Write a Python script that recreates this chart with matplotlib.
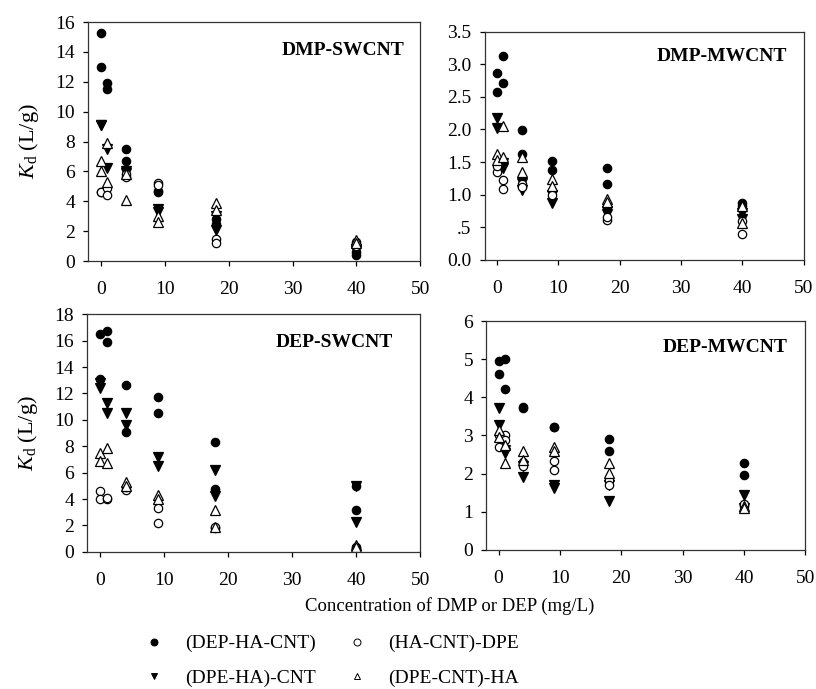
import matplotlib
matplotlib.use("Agg")
import matplotlib.pyplot as plt
from matplotlib.lines import Line2D

plt.rcParams["font.family"] = ["Liberation Serif", "DejaVu Serif"]
plt.rcParams["mathtext.fontset"] = "custom"
plt.rcParams["mathtext.rm"] = "Liberation Serif"
plt.rcParams["mathtext.it"] = "Liberation Serif:italic"

# x positions (mg/L), two replicate points per level
X = [0, 0, 1, 1, 4, 4, 9, 9, 18, 18, 40, 40]

SERIES = ["(DEP-HA-CNT)", "(DPE-HA)-CNT", "(HA-CNT)-DPE", "(DPE-CNT)-HA"]

# DMP-SWCNT
dmp_sw_hc = [15.3, 13.0, 11.9, 11.5, 7.5, 6.7, 4.6, 4.7, 2.5, 2.8, 0.4, 0.6]
dmp_sw_hd = [9.1, 9.1, 7.5, 6.2, 6.0, 5.9, 3.5, 3.3, 3.0, 2.1, 0.7, 0.8]
dmp_sw_cd = [4.6, 4.6, 4.9, 4.4, 5.6, 5.8, 5.2, 5.1, 1.5, 1.2, 1.0, 1.3]
dmp_sw_ch = [6.7, 6.0, 7.9, 5.3, 4.1, 5.8, 3.0, 2.6, 3.9, 3.4, 1.4, 1.2]

# DMP-MWCNT
dmp_mw_hc = [2.87, 2.57, 3.13, 2.72, 1.99, 1.62, 1.52, 1.37, 1.41, 1.17, 0.87, 0.82]
dmp_mw_hd = [2.17, 2.02, 1.48, 1.41, 1.18, 1.07, 1.00, 0.87, 0.75, 0.70, 0.72, 0.62]
dmp_mw_cd = [1.35, 1.44, 1.23, 1.09, 1.17, 1.12, 1.05, 1.00, 0.61, 0.65, 0.39, 0.60]
dmp_mw_ch = [1.62, 1.53, 2.05, 1.57, 1.58, 1.34, 1.24, 1.13, 0.93, 0.88, 0.82, 0.57]

# DEP-SWCNT
dep_sw_hc = [16.5, 13.1, 16.7, 15.9, 12.6, 9.1, 11.7, 10.5, 8.3, 4.8, 3.2, 5.0]
dep_sw_hd = [12.8, 12.4, 11.3, 10.5, 10.5, 9.6, 7.2, 6.5, 6.2, 4.2, 5.0, 2.3]
dep_sw_cd = [4.6, 4.0, 4.0, 4.1, 4.7, 4.9, 3.3, 2.2, 1.8, 1.9, 0.4, 0.3]
dep_sw_ch = [7.5, 6.9, 7.9, 6.7, 5.3, 5.0, 4.3, 4.0, 3.2, 1.9, 0.5, 0.4]

# DEP-MWCNT
dep_mw_hc = [4.95, 4.60, 5.00, 4.22, 3.71, 3.74, 3.22, 3.22, 2.90, 2.60, 2.28, 1.97]
dep_mw_hd = [3.71, 3.28, 2.62, 2.54, 2.20, 1.90, 1.69, 1.62, 1.70, 1.27, 1.45, 1.10]
dep_mw_cd = [2.70, 3.00, 3.00, 2.88, 2.30, 2.20, 2.32, 2.10, 1.84, 1.70, 1.14, 1.20]
dep_mw_ch = [3.13, 2.97, 2.75, 2.28, 2.58, 2.36, 2.71, 2.58, 2.29, 2.01, 1.14, 1.10]

PANELS = [
    ("DMP-SWCNT", [dmp_sw_hc, dmp_sw_hd, dmp_sw_cd, dmp_sw_ch],
     (0, 16), [0, 2, 4, 6, 8, 10, 12, 14, 16], None),
    ("DMP-MWCNT", [dmp_mw_hc, dmp_mw_hd, dmp_mw_cd, dmp_mw_ch],
     (0, 3.5), [0, 0.5, 1.0, 1.5, 2.0, 2.5, 3.0, 3.5],
     ["0.0", ".5", "1.0", "1.5", "2.0", "2.5", "3.0", "3.5"]),
    ("DEP-SWCNT", [dep_sw_hc, dep_sw_hd, dep_sw_cd, dep_sw_ch],
     (0, 18), [0, 2, 4, 6, 8, 10, 12, 14, 16, 18], None),
    ("DEP-MWCNT", [dep_mw_hc, dep_mw_hd, dep_mw_cd, dep_mw_ch],
     (0, 6), [0, 1, 2, 3, 4, 5, 6], None),
]

STYLES = [
    dict(marker="o", mfc="black", mec="black"),
    dict(marker="v", mfc="black", mec="black"),
    dict(marker="o", mfc="white", mec="black"),
    dict(marker="^", mfc="white", mec="black"),
]
SIZES = [6, 7, 6, 7]

RECTS = [
    [0.108, 0.621, 0.407, 0.347],
    [0.594, 0.623, 0.391, 0.331],
    [0.107, 0.199, 0.408, 0.345],
    [0.596, 0.202, 0.391, 0.332],
]
LABEL_POS = [(0.952, 0.883), (0.947, 0.89), (0.919, 0.882), (0.944, 0.886)]

fig = plt.figure(figsize=(8.16, 6.89), dpi=100)

for i, (name, series, ylim, yticks, ylabels) in enumerate(PANELS):
    ax = fig.add_axes(RECTS[i])
    for ys, st, ms in zip(series, STYLES, SIZES):
        ax.plot(X, ys, linestyle="none", markersize=ms, markeredgewidth=0.9, **st)
    ax.set_xlim(-2, 50)
    ax.set_ylim(*ylim)
    ax.set_xticks([0, 10, 20, 30, 40, 50])
    ax.set_yticks(yticks)
    if ylabels:
        ax.set_yticklabels(ylabels)
    ax.tick_params(direction="out", length=3.5, width=0.9, labelsize=14)
    ax.tick_params(axis="x", pad=11)
    ax.tick_params(axis="y", pad=6)
    for sp in ax.spines.values():
        sp.set_linewidth(0.9)
        sp.set_color("#333333")
    lx, ly = LABEL_POS[i]
    ax.text(lx, ly, name, transform=ax.transAxes, ha="right", va="center",
            fontsize=14, fontweight="bold")
    if i % 2 == 0:
        ax.set_ylabel(r"$K_\mathrm{d}$ (L/g)", fontsize=16, labelpad=10)

fig.text(0.551, 0.120, "Concentration of DMP or DEP (mg/L)", ha="center",
         va="center", fontsize=13.5)

handles = [Line2D([], [], linestyle="none", markersize=5, markeredgewidth=0.7, **st)
           for st in STYLES]
fig.legend(handles, SERIES, loc="center", bbox_to_anchor=(0.405, 0.041), ncol=2,
           frameon=False, fontsize=14, handletextpad=1.0, columnspacing=1.5,
           labelspacing=0.85, handlelength=1.2)

fig.savefig("out.png", dpi=100)
